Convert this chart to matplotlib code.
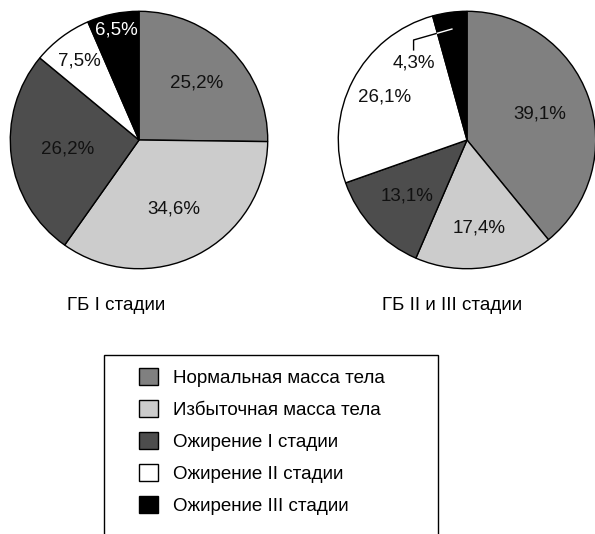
import numpy as np
import matplotlib
matplotlib.use('Agg')
import matplotlib.pyplot as plt
from matplotlib.patches import Patch, Rectangle

plt.rcParams['font.family'] = ['Liberation Sans', 'DejaVu Sans']

categories = ['Нормальная масса тела', 'Избыточная масса тела', 'Ожирение I стадии',
              'Ожирение II стадии', 'Ожирение III стадии']
colors = ['#808080', '#cccccc', '#4d4d4d', '#ffffff', '#000000']
stage1 = [25.2, 34.6, 26.2, 7.5, 6.5]
stage23 = [39.1, 17.4, 13.1, 26.1, 4.3]
titles = ['ГБ I стадии', 'ГБ II и III стадии']

# label distance (fraction of radius) and text colour per slice
dist1 = [0.63, 0.6, 0.56, 0.77, 0.87]
dist23 = [0.6, 0.69, 0.64, 0.72, 0.6]
txtcol1 = ['#111111', '#111111', '#111111', '#111111', 'white']
txtcol23 = ['#111111'] * 5
FS = 13.5

fig = plt.figure(figsize=(5.95, 5.34), dpi=100)
ax1 = fig.add_axes([9 / 595, 1 - 270 / 534, 260 / 595, 260 / 534])
ax2 = fig.add_axes([337 / 595, 1 - 270 / 534, 260 / 595, 260 / 534])


def fmt(v):
    return ('%.1f%%' % v).replace('.', ',')


def draw(ax, vals, dists, tcols, leader=False):
    wedges, _ = ax.pie(vals, colors=colors, startangle=90, counterclock=False,
                       wedgeprops=dict(edgecolor='black', linewidth=1))
    for i, (w, v) in enumerate(zip(wedges, vals)):
        mid = np.deg2rad((w.theta1 + w.theta2) / 2)
        x, y = dists[i] * np.cos(mid), dists[i] * np.sin(mid)
        if leader and i == len(vals) - 1:
            tip = np.array([0.87 * np.cos(mid), 0.87 * np.sin(mid)])
            lx, ly = -0.415, 0.6
            knee = np.array([lx, 0.777])
            start = np.array([lx, 0.7])
            ax.plot([start[0], knee[0], tip[0]], [start[1], knee[1], tip[1]],
                    color='black', lw=1)
            # white part of the line inside the black wedge
            a = np.deg2rad(w.theta2)
            d = np.array([np.cos(a), np.sin(a)])
            seg = tip - knee
            t = -(knee[0] * d[1] - knee[1] * d[0]) / (seg[0] * d[1] - seg[1] * d[0])
            p = knee + t * seg
            ax.plot([p[0], tip[0]], [p[1], tip[1]], color='white', lw=1)
            ax.text(lx, ly, fmt(v), ha='center', va='center', fontsize=FS, color=tcols[i])
        else:
            ax.text(x, y, fmt(v), ha='center', va='center', fontsize=FS, color=tcols[i])
    ax.set_xlim(-1.01, 1.01)
    ax.set_ylim(-1.01, 1.01)
    ax.set_aspect('equal')
    ax.axis('off')


draw(ax1, stage1, dist1, txtcol1)
draw(ax2, stage23, dist23, txtcol23, leader=True)

fig.text(116 / 595, 1 - 306 / 534, titles[0], ha='center', va='center', fontsize=FS)
fig.text(452 / 595, 1 - 306 / 534, titles[1], ha='center', va='center', fontsize=FS)

# legend frame, open at the bottom edge of the picture
fig.patches.append(Rectangle((104 / 595, -0.05), (438 - 104) / 595, 1 - 355 / 534 + 0.05,
                             transform=fig.transFigure, facecolor='none',
                             edgecolor='black', linewidth=1))

handles = [Patch(facecolor=c, edgecolor='black', linewidth=1) for c in colors]
leg = fig.legend(handles, categories, loc='upper left',
                 bbox_to_anchor=(139 / 595, 1 - 368 / 534),
                 fontsize=FS, frameon=False,
                 handlelength=1.0, handleheight=1.0, handletextpad=0.8,
                 labelspacing=0.7, borderpad=0, borderaxespad=0)

fig.savefig('out.png', dpi=100)
